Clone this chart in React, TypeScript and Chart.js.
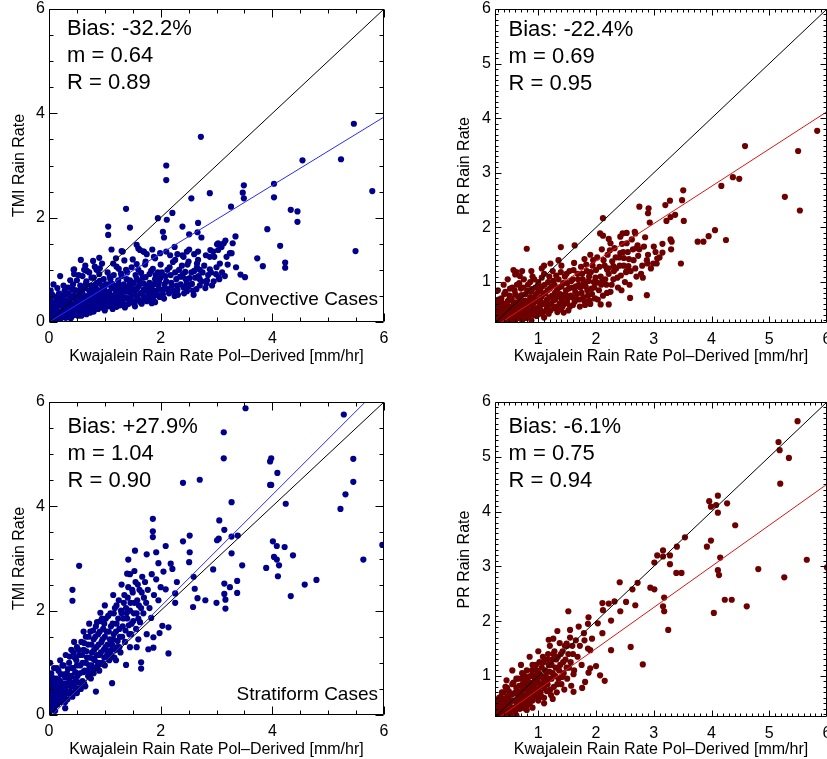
import React, { useEffect, useRef } from "react";
import { Chart, registerables } from "chart.js";
Chart.register(...registerables);

type Pt = [number, number];
const FONT = '"Liberation Sans", Arial, Helvetica, sans-serif';

// ---------- text ----------
const xAxisTitle = "Kwajalein Rain Rate Pol\u2013Derived [mm/hr]";
const yAxisTitles = ["TMI Rain Rate", "PR Rain Rate", "TMI Rain Rate", "PR Rain Rate"];
const statsConvTmi = ["Bias: -32.2%", "m = 0.64", "R = 0.89"];
const statsConvPr = ["Bias: -22.4%", "m = 0.69", "R = 0.95"];
const statsStratTmi = ["Bias: +27.9%", "m = 1.04", "R = 0.90"];
const statsStratPr = ["Bias: -6.1%", "m = 0.75", "R = 0.94"];
const caseLabels = ["Convective Cases", "", "Stratiform Cases", ""];

// ---------- axes ----------
const tmiRange = [0, 6];
const prRange = [0.25, 6];
const tmiMajorTicks = [0, 2, 4, 6];
const prMajorTicks = [1, 2, 3, 4, 5, 6];
const tmiMinorStep = 0.5;
const prMinorStep = 0.1;

// ---------- lines ----------
const oneToOneTmi: Pt[] = [[0, 0], [6, 6]];
const oneToOnePr: Pt[] = [[0.25, 0.25], [6, 6]];
const fitConvTmi: Pt[] = [[0, 0], [6, 3.93]];
const fitConvPr: Pt[] = [[0.25, 0.19], [6, 4.12]];
const fitStratTmi: Pt[] = [[0, -0.06], [6, 6.36]];
const fitStratPr: Pt[] = [[0, 0], [6, 4.5]];

// ---------- scatter values ----------
const convTmi: Pt[] = [
  [2.72, 3.55], [5.46, 3.8], [2.1, 3.0], [2.1, 2.72], [4.54, 3.1], [5.23, 3.12], [5.79, 2.51], [4.03, 2.65],
  [4.03, 2.39], [3.49, 2.62], [3.47, 2.48], [3.49, 2.37], [2.88, 2.47], [2.55, 2.37], [3.26, 2.21], [1.38, 2.17],
  [2.21, 2.09], [1.95, 1.99], [2.11, 1.96], [2.67, 1.9], [2.39, 1.83], [1.45, 1.81], [1.06, 1.83], [1.06, 1.67],
  [2.04, 1.73], [2.06, 1.62], [2.51, 1.68], [2.66, 1.72], [2.73, 1.62], [3.01, 1.49], [3.16, 1.56], [3.34, 1.64],
  [3.13, 1.51], [4.33, 2.15], [4.45, 2.12], [4.45, 1.92], [3.91, 1.78], [4.14, 1.46], [3.73, 1.22], [3.83, 1.07],
  [4.23, 1.14], [4.23, 1.04], [5.49, 1.36], [3.43, 0.91], [3.51, 0.86], [3.04, 0.86], [2.99, 0.92], [2.88, 1.01],
  [2.89, 1.38], [3.03, 1.38], [2.96, 1.25], [3.18, 1.25], [3.24, 1.32], [2.81, 1.28], [3.06, 1.12], [2.67, 1.19],
  [2.51, 1.39], [2.39, 1.28], [2.25, 1.44], [2.17, 1.28], [1.85, 1.39], [1.69, 1.35], [1.57, 1.48], [1.6, 1.41],
  [1.32, 1.35], [1.12, 1.39], [0.57, 1.19], [0.9, 1.23], [0.45, 1.01], [0.45, 0.92], [2.59, 0.52], [1.84, 0.36],
  [2.82, 0.74], [2.7, 0.82], [2.47, 0.74], [2.38, 0.87], [0.02, 0.58], [0.02, 0.45], [1.3, 1.36], [1.63, 1.38],
  [1.7, 1.35], [1.88, 1.25], [1.99, 1.32], [2.1, 1.35], [0.79, 1.17], [0.82, 1.06], [0.44, 1.0], [0.63, 1.0],
  [0.91, 1.03], [1.21, 1.06], [1.38, 1.0], [1.57, 1.11], [1.73, 1.16], [1.9, 1.22], [2.26, 1.19], [2.41, 1.25],
  [2.47, 1.35], [2.5, 1.16], [2.65, 1.12], [2.67, 1.35], [2.7, 1.0], [2.88, 1.25], [2.94, 1.35], [3.03, 1.51],
  [3.09, 1.44], [3.29, 1.51], [3.27, 1.32], [1.45, 0.74],
  [0.02, 0.05], [0.03, 0.15], [0.05, 0.3], [0.02, 0.4], [0.06, 0.52], [0.04, 0.22], [0.08, 0.1], [0.1, 0.35],
  [0.1, 0.2], [0.07, 0.02], [0.12, 0.48], [0.03, 0.6], [0.09, 0.28], [0.15, 0.1], [0.15, 0.3], [0.17, 0.45],
  [0.18, 0.55], [0.2, 0.05], [0.2, 0.2], [0.22, 0.38], [0.24, 0.5], [0.25, 0.15], [0.27, 0.28], [0.28, 0.6],
  [0.3, 0.08], [0.3, 0.42], [0.32, 0.3], [0.26, 0.7], [0.35, 0.15], [0.35, 0.55], [0.37, 0.25], [0.38, 0.45],
  [0.4, 0.1], [0.4, 0.35], [0.42, 0.62], [0.43, 0.72], [0.45, 0.2], [0.45, 0.5], [0.47, 0.3], [0.48, 0.42],
  [0.5, 0.15], [0.5, 0.6], [0.5, 0.8], [0.52, 0.35], [0.53, 0.48], [0.55, 0.25], [0.56, 0.7], [0.58, 0.12],
  [0.58, 0.4], [0.6, 0.55], [0.6, 0.88], [0.62, 0.3], [0.63, 0.45], [0.65, 0.2], [0.65, 0.65], [0.67, 0.78],
  [0.68, 0.38], [0.7, 0.5], [0.7, 0.28], [0.72, 0.6], [0.72, 0.95], [0.74, 0.18], [0.75, 0.42], [0.75, 0.7],
  [0.78, 0.32], [0.78, 0.55], [0.8, 0.85], [0.8, 0.2], [0.82, 0.45], [0.84, 0.65], [0.85, 0.38], [0.86, 0.75],
  [0.88, 0.25], [0.88, 0.52], [0.9, 0.6], [0.9, 0.92], [0.92, 0.42], [0.94, 0.3], [0.95, 0.7], [0.96, 0.5],
  [0.98, 0.82], [1.0, 0.38], [1.0, 0.6], [1.0, 0.22], [1.02, 0.48], [1.04, 0.72], [1.05, 0.95], [1.06, 0.3],
  [1.08, 0.58], [1.1, 0.4], [1.1, 0.82], [1.12, 0.65], [1.14, 0.25], [1.15, 0.5], [1.16, 0.9], [1.18, 0.35],
  [1.2, 0.7], [1.2, 0.58], [1.22, 0.45], [1.24, 0.8], [1.25, 1.02], [1.27, 0.32], [1.28, 0.62], [1.3, 0.5],
  [1.3, 0.88], [1.32, 0.42], [1.34, 0.72], [1.36, 0.28], [1.38, 0.58], [1.4, 0.95], [1.4, 0.45], [1.42, 0.66],
  [1.44, 0.36], [1.45, 0.8], [1.47, 0.52], [1.48, 1.05], [1.5, 0.62], [1.5, 0.4], [1.52, 0.75], [1.54, 0.3],
  [1.55, 0.9], [1.56, 0.5], [1.58, 0.65], [1.6, 0.42], [1.6, 1.0], [1.62, 0.78], [1.64, 0.55], [1.66, 0.35],
  [1.68, 0.85], [1.7, 0.62], [1.7, 0.48], [1.72, 1.1], [1.74, 0.7], [1.75, 0.4], [1.78, 0.55], [1.8, 0.92],
  [1.8, 0.75], [1.82, 0.45], [1.84, 0.65], [1.86, 1.02], [1.88, 0.5], [1.9, 0.82], [1.9, 0.38], [1.92, 0.6],
  [1.95, 0.95], [1.96, 0.7], [1.98, 0.48], [2.0, 0.85], [2.0, 1.1], [2.05, 0.62], [2.06, 0.45], [2.1, 0.78],
  [2.12, 1.0], [2.15, 0.55], [2.18, 0.9], [2.2, 0.7], [2.22, 1.15], [2.25, 0.5], [2.28, 0.82], [2.3, 0.62],
  [2.33, 1.0], [2.36, 0.72], [2.4, 0.92], [2.42, 0.55], [2.45, 0.82], [2.48, 1.1], [2.5, 0.68], [2.55, 0.95],
  [2.58, 0.6], [2.62, 0.85], [2.65, 1.05], [2.7, 0.7], [2.75, 0.95], [2.8, 0.65], [2.85, 0.9], [2.95, 0.78],
  [3.1, 0.95], [3.2, 1.1],
];
const convTmiDense: Pt[] = [
  [0.04, 0.08], [0.06, 0.38], [0.11, 0.13], [0.13, 0.24], [0.14, 0.41], [0.16, 0.06], [0.19, 0.33], [0.21, 0.47],
  [0.23, 0.12], [0.26, 0.22], [0.29, 0.36], [0.31, 0.53], [0.33, 0.18], [0.34, 0.66], [0.36, 0.39], [0.39, 0.2],
  [0.41, 0.49], [0.44, 0.27], [0.46, 0.61], [0.49, 0.33], [0.51, 0.47], [0.54, 0.19], [0.55, 0.56], [0.57, 0.31],
  [0.59, 0.64], [0.61, 0.22], [0.62, 0.5], [0.64, 0.37], [0.66, 0.73], [0.69, 0.44], [0.71, 0.21], [0.73, 0.53],
  [0.74, 0.33], [0.76, 0.85], [0.77, 0.61], [0.79, 0.26], [0.81, 0.5], [0.83, 0.36], [0.83, 0.72], [0.86, 0.56],
  [0.87, 0.29], [0.89, 0.44], [0.91, 0.79], [0.93, 0.53], [0.93, 0.35], [0.96, 0.63], [0.97, 0.27], [0.99, 0.47],
  [1.01, 0.71], [1.03, 0.33], [1.05, 0.55], [1.07, 0.41], [1.09, 0.87], [1.11, 0.51], [1.13, 0.32], [1.13, 0.73],
  [1.16, 0.44], [1.19, 0.62], [1.21, 0.29], [1.23, 0.54], [1.26, 0.71], [1.26, 0.4], [1.29, 0.93], [1.31, 0.57],
  [1.33, 0.35], [1.35, 0.64], [1.37, 0.47], [1.39, 0.82], [1.41, 0.34], [1.43, 0.58], [1.46, 0.45], [1.49, 0.72],
  [1.51, 0.53], [1.53, 0.37], [1.55, 0.61], [1.57, 0.83], [1.59, 0.46], [1.61, 0.69], [1.63, 0.39], [1.65, 0.94],
  [1.67, 0.57], [1.69, 0.74], [1.71, 0.43], [1.73, 0.86], [1.76, 0.6], [1.79, 0.47], [1.81, 0.68], [1.83, 0.98],
  [1.85, 0.56], [1.87, 0.41], [1.89, 0.73], [1.91, 0.9], [1.94, 0.52], [1.97, 0.77], [1.99, 0.62], [2.02, 0.95],
  [2.04, 0.53], [2.07, 0.72], [2.09, 0.88], [2.13, 0.63], [2.16, 1.05], [2.19, 0.75], [2.23, 0.6], [2.26, 0.95],
  [2.29, 0.7], [2.31, 0.52], [2.35, 0.87], [2.38, 1.08], [2.41, 0.66], [2.44, 0.96], [2.47, 0.59], [2.52, 0.84],
  [2.56, 0.73], [2.6, 0.98], [2.64, 0.63], [2.68, 0.88], [2.73, 0.78], [2.78, 1.08], [2.83, 0.8], [2.9, 0.95],
  [2.92, 0.7], [3.0, 1.05], [3.05, 0.82], [3.15, 0.88], [3.35, 1.05], [1.15, 1.12], [1.35, 1.18], [0.95, 1.12],
  [0.68, 0.98], [0.53, 0.9], [0.38, 0.8], [0.15, 0.65], [0.08, 0.72], [0.2, 0.88], [1.5, 1.2], [1.75, 1.3],
  [2.3, 1.3], [2.6, 1.3], [1.2, 1.22], [0.85, 1.0], [0.65, 1.08], [0.05, 0.02], [0.09, 0.05], [0.12, 0.03],
  [0.14, 0.17], [0.18, 0.12], [0.22, 0.08], [0.24, 0.3], [0.28, 0.14], [0.31, 0.24], [0.34, 0.1], [0.37, 0.33],
  [0.39, 0.07], [0.42, 0.22], [0.44, 0.13], [0.47, 0.17], [0.49, 0.25], [0.52, 0.12], [0.56, 0.17], [0.6, 0.42],
  [0.64, 0.27], [0.67, 0.15], [0.7, 0.38], [0.73, 0.25],
];

const convPr: Pt[] = [
  [5.83, 3.77], [4.58, 3.49], [5.5, 3.4], [4.37, 2.92], [4.48, 2.89], [4.17, 2.76], [5.27, 2.56], [5.53, 2.31],
  [3.51, 2.68], [3.49, 2.5], [3.28, 2.49], [3.2, 2.41], [2.75, 2.38], [2.91, 2.35], [2.9, 2.26], [2.12, 2.17],
  [3.37, 2.23], [3.29, 2.19], [3.22, 2.12], [3.52, 2.12], [2.93, 2.09], [4.06, 1.95], [3.95, 1.84], [4.25, 1.77],
  [3.86, 1.74], [3.76, 1.74], [3.29, 1.78], [3.31, 1.74], [3.15, 1.54], [3.06, 1.43], [2.99, 1.34], [2.89, 1.34],
  [3.05, 1.34], [3.47, 1.34], [2.81, 1.08], [2.88, 0.76], [2.59, 0.71], [2.22, 0.59], [0.8, 1.61], [1.39, 1.64],
  [1.63, 1.67], [2.12, 1.85], [2.07, 1.89], [2.46, 1.89], [2.53, 1.9], [2.67, 1.92], [2.68, 1.89], [2.42, 1.83],
  [2.22, 1.79], [2.25, 1.71], [2.72, 1.67], [2.7, 1.62], [2.53, 1.71], [2.42, 1.53], [2.48, 1.44], [2.56, 1.29],
  [2.53, 1.2], [2.3, 1.29], [2.19, 1.23], [2.11, 1.02], [2.02, 0.99], [2.08, 0.59], [1.44, 0.44], [0.57, 1.22],
  [0.6, 1.14], [0.68, 1.11], [1.21, 1.34], [1.06, 1.25],
  [0.27, 0.3], [0.28, 0.45], [0.3, 0.6], [0.3, 0.27], [0.32, 0.38], [0.33, 0.52], [0.35, 0.3], [0.36, 0.7],
  [0.38, 0.45], [0.4, 0.28], [0.4, 0.58], [0.42, 0.36], [0.43, 0.82], [0.45, 0.5], [0.46, 0.3], [0.47, 0.65],
  [0.48, 0.4], [0.5, 0.75], [0.5, 0.55], [0.52, 0.28], [0.53, 0.45], [0.55, 0.9], [0.55, 0.35], [0.57, 0.62],
  [0.58, 0.5], [0.6, 0.3], [0.6, 0.78], [0.62, 0.42], [0.63, 0.95], [0.65, 0.58], [0.66, 0.35], [0.68, 0.7],
  [0.7, 0.48], [0.7, 0.88], [0.72, 0.3], [0.73, 0.62], [0.75, 1.05], [0.76, 0.42], [0.78, 0.78], [0.8, 0.55],
  [0.8, 0.35], [0.82, 0.95], [0.84, 0.65], [0.85, 0.45], [0.87, 0.82], [0.88, 0.3], [0.9, 0.58], [0.9, 1.1],
  [0.92, 0.72], [0.94, 0.48], [0.95, 0.9], [0.97, 0.38], [0.98, 0.65], [1.0, 0.82], [1.0, 1.0], [1.02, 0.55],
  [1.04, 0.42], [1.05, 0.72], [1.07, 0.92], [1.08, 0.6], [1.1, 0.35], [1.1, 1.15], [1.12, 0.8], [1.14, 0.5],
  [1.15, 0.68], [1.17, 1.0], [1.18, 0.42], [1.2, 0.88], [1.22, 0.6], [1.24, 0.75], [1.25, 1.2], [1.27, 0.52],
  [1.28, 0.95], [1.3, 0.68], [1.32, 0.85], [1.33, 0.45], [1.35, 1.05], [1.37, 0.6], [1.38, 0.78], [1.4, 0.92],
  [1.4, 1.3], [1.42, 0.55], [1.44, 0.72], [1.46, 1.1], [1.48, 0.85], [1.5, 0.62], [1.5, 0.98], [1.52, 0.48],
  [1.54, 1.2], [1.56, 0.75], [1.58, 0.9], [1.6, 1.05], [1.6, 0.58], [1.62, 1.35], [1.64, 0.82], [1.66, 0.68],
  [1.68, 1.15], [1.7, 0.95], [1.72, 0.55], [1.74, 1.28], [1.75, 0.8], [1.77, 1.05], [1.8, 0.65], [1.8, 1.42],
  [1.82, 0.92], [1.84, 1.2], [1.86, 0.75], [1.88, 1.1], [1.9, 1.5], [1.9, 0.6], [1.92, 0.88], [1.94, 1.3],
  [1.96, 1.0], [1.98, 0.7], [2.0, 1.22], [2.02, 1.45], [2.05, 0.85], [2.08, 1.1], [2.1, 1.6], [2.12, 0.75],
  [2.15, 1.3], [2.18, 0.95], [2.2, 1.5], [2.22, 1.15], [2.25, 0.82], [2.28, 1.38], [2.3, 1.05], [2.32, 1.62],
  [2.35, 1.25], [2.38, 0.9], [2.4, 1.45], [2.43, 1.12], [2.45, 1.7], [2.48, 1.3], [2.5, 1.0], [2.55, 1.55],
  [2.6, 1.2], [2.62, 1.78], [2.65, 1.4], [2.7, 1.1], [2.75, 1.6], [2.8, 1.3], [2.85, 1.82], [2.9, 1.5],
  [2.95, 1.25], [3.0, 1.65], [3.1, 1.45],
];
const convPrDense: Pt[] = [
  [0.26, 0.35], [0.27, 0.52], [0.29, 0.26], [0.31, 0.42], [0.31, 0.68], [0.34, 0.36], [0.34, 0.56], [0.37, 0.27],
  [0.37, 0.62], [0.39, 0.38], [0.41, 0.48], [0.41, 0.78], [0.44, 0.29], [0.44, 0.6], [0.46, 0.42], [0.49, 0.33],
  [0.49, 0.67], [0.51, 0.48], [0.51, 0.88], [0.54, 0.38], [0.54, 0.7], [0.56, 0.3], [0.56, 0.55], [0.59, 0.43],
  [0.59, 0.85], [0.61, 0.63], [0.62, 0.33], [0.64, 0.51], [0.64, 0.74], [0.67, 0.44], [0.67, 0.98], [0.69, 0.6],
  [0.71, 0.38], [0.71, 0.76], [0.74, 0.52], [0.74, 0.9], [0.77, 0.34], [0.77, 0.66], [0.79, 0.47], [0.81, 0.84],
  [0.83, 0.38], [0.83, 0.6], [0.86, 0.72], [0.86, 1.0], [0.89, 0.5], [0.89, 0.87], [0.91, 0.4], [0.93, 0.63],
  [0.93, 1.05], [0.96, 0.78], [0.96, 0.52], [0.99, 0.45], [0.99, 0.93], [1.01, 0.68], [1.03, 0.86], [1.03, 0.5],
  [1.06, 0.62], [1.06, 1.08], [1.09, 0.78], [1.09, 0.45], [1.11, 0.95], [1.13, 0.62], [1.16, 0.85], [1.16, 0.55],
  [1.19, 0.72], [1.19, 1.1], [1.21, 0.48], [1.23, 0.92], [1.26, 0.66], [1.26, 1.02], [1.29, 0.8], [1.31, 0.55],
  [1.31, 1.12], [1.34, 0.74], [1.36, 0.9], [1.39, 0.5], [1.39, 1.18], [1.41, 0.68], [1.43, 0.98], [1.45, 0.6],
  [1.47, 0.78], [1.49, 1.15], [1.51, 0.7], [1.53, 0.88], [1.55, 0.55], [1.57, 1.02], [1.59, 0.72], [1.61, 1.22],
  [1.63, 0.64], [1.65, 0.92], [1.67, 0.78], [1.69, 1.05], [1.71, 0.68], [1.73, 0.9], [1.76, 1.15], [1.78, 0.72],
  [1.79, 0.98], [1.81, 0.58], [1.83, 1.32], [1.85, 0.85], [1.87, 1.02], [1.89, 0.66], [1.91, 1.18], [1.93, 0.78],
  [1.95, 1.4], [1.97, 0.9], [1.99, 1.08], [2.03, 0.68], [2.06, 1.28], [2.09, 0.95], [2.13, 1.4], [2.16, 1.05],
  [2.19, 0.8], [2.21, 1.25], [2.24, 1.58], [2.27, 0.95], [2.31, 1.2], [2.34, 1.45], [2.37, 1.08], [2.41, 1.3],
  [2.44, 0.85], [2.47, 1.55], [2.52, 1.18], [2.57, 1.42], [2.58, 0.95], [2.64, 1.6], [2.68, 1.25], [2.73, 1.48],
  [2.78, 1.15], [2.83, 1.65], [2.88, 1.4], [3.03, 1.55], [3.15, 1.7], [3.3, 1.6], [0.62, 1.18], [0.47, 1.05],
  [0.88, 1.2], [1.1, 1.3], [1.35, 1.4], [0.72, 1.2], [0.4, 0.95], [0.3, 0.85],
];

const stratTmi: Pt[] = [
  [3.52, 5.88], [5.28, 5.76], [3.13, 5.42], [3.13, 4.92], [3.96, 4.86], [3.98, 4.92], [4.09, 4.64], [3.96, 4.41],
  [3.98, 4.41], [5.45, 4.91], [5.45, 4.47], [5.31, 4.23], [5.22, 3.95], [4.24, 4.05], [2.7, 4.51], [2.4, 4.45],
  [3.27, 4.08], [1.86, 3.76], [1.86, 3.52], [1.86, 3.41], [3.05, 3.73], [3.14, 3.55], [3.27, 3.42], [3.38, 3.44],
  [3.01, 3.35], [3.04, 3.38], [2.52, 3.44], [2.4, 3.33], [2.09, 3.24], [2.52, 3.12], [1.54, 3.15], [1.42, 2.98],
  [2.51, 2.93], [1.96, 2.91], [2.18, 2.9], [2.21, 2.8], [3.27, 3.1], [4.01, 3.33], [4.08, 3.24], [4.22, 3.22],
  [4.37, 3.06], [4.03, 3.03], [4.08, 2.98], [3.89, 2.82], [4.12, 2.87], [4.1, 2.66], [3.46, 2.87], [5.63, 2.98],
  [5.97, 3.26], [2.94, 2.79], [2.59, 2.65], [2.61, 2.42], [2.29, 2.55], [2.09, 2.41], [2.26, 2.33], [2.26, 2.15],
  [2.58, 2.07], [2.66, 2.24], [2.8, 2.2], [3.0, 2.15], [3.14, 2.52], [3.24, 2.45], [3.37, 2.57], [3.37, 2.34],
  [3.14, 2.32], [3.16, 2.21], [3.16, 2.04], [4.58, 2.5], [4.79, 2.59], [4.33, 2.28], [1.92, 3.12], [1.75, 3.08],
  [1.53, 2.76], [1.4, 2.71], [0.92, 1.96], [0.42, 2.4], [0.42, 2.19], [0.54, 2.86], [1.83, 1.86], [2.03, 1.71],
  [2.14, 1.68], [2.14, 1.18], [1.87, 1.49], [1.98, 1.57], [1.87, 1.29], [1.78, 1.26], [1.57, 1.3], [1.65, 1.01],
  [1.65, 0.89], [1.38, 0.96], [1.13, 0.61], [0.84, 0.45], [0.29, 0.13],
  [0.01, 0.05], [0.02, 0.2], [0.01, 0.35], [0.03, 0.5], [0.02, 0.65], [0.04, 0.8], [0.05, 0.12], [0.06, 0.42],
  [0.07, 0.28], [0.08, 0.6], [0.09, 0.9], [0.1, 0.18], [0.1, 0.5], [0.02, 1.0], [0.05, 0.72], [0.12, 0.35],
  [0.13, 0.7], [0.15, 0.2], [0.15, 0.55], [0.17, 0.85], [0.18, 0.4], [0.2, 0.65], [0.2, 1.05], [0.22, 0.25],
  [0.23, 0.5], [0.25, 0.78], [0.26, 0.95], [0.27, 0.35], [0.28, 0.6], [0.3, 1.15], [0.3, 0.45], [0.32, 0.8],
  [0.33, 0.3], [0.35, 0.62], [0.36, 1.0], [0.38, 0.45], [0.4, 0.75], [0.4, 1.25], [0.42, 0.35], [0.43, 0.9],
  [0.45, 0.55], [0.46, 1.1], [0.48, 0.7], [0.5, 0.42], [0.5, 1.3], [0.5, 0.95], [0.52, 0.62], [0.54, 1.15],
  [0.55, 0.8], [0.57, 0.5], [0.58, 1.4], [0.6, 1.0], [0.6, 0.65], [0.62, 1.25], [0.64, 0.85], [0.65, 0.55],
  [0.66, 1.5], [0.68, 1.1], [0.7, 0.75], [0.7, 1.35], [0.72, 0.95], [0.74, 1.6], [0.75, 0.7], [0.77, 1.2],
  [0.78, 0.9], [0.8, 1.45], [0.8, 0.8], [0.82, 1.05], [0.84, 1.7], [0.85, 1.3], [0.87, 0.95], [0.88, 1.55],
  [0.9, 1.15], [0.9, 0.85], [0.92, 1.8], [0.94, 1.4], [0.95, 1.0], [0.97, 1.65], [0.98, 1.25], [1.0, 0.95],
  [1.0, 1.5], [1.02, 1.85], [1.04, 1.15], [1.05, 1.35], [1.07, 1.6], [1.08, 1.05], [1.1, 1.95], [1.12, 1.25],
  [1.14, 1.75], [1.15, 1.45], [1.17, 1.1], [1.18, 2.05], [1.2, 1.6], [1.22, 1.3], [1.24, 1.85], [1.25, 2.2],
  [1.27, 1.5], [1.28, 1.2], [1.3, 1.95], [1.32, 1.7], [1.35, 2.3], [1.36, 1.4], [1.38, 2.05], [1.4, 1.85],
  [1.42, 2.45], [1.44, 1.55], [1.46, 2.15], [1.48, 1.75], [1.5, 2.35], [1.52, 1.95], [1.55, 2.55], [1.56, 1.65],
  [1.58, 2.2], [1.6, 1.85], [1.62, 2.4], [1.65, 2.05], [1.67, 2.65], [1.7, 2.25],
];
const stratTmiDense: Pt[] = [
  [0.02, 0.1], [0.03, 0.3], [0.02, 0.45], [0.04, 0.58], [0.03, 0.78], [0.06, 0.2], [0.07, 0.5], [0.08, 0.36],
  [0.09, 0.7], [0.11, 0.08], [0.11, 0.27], [0.12, 0.6], [0.13, 0.45], [0.14, 0.9], [0.16, 0.3], [0.17, 0.68],
  [0.19, 0.5], [0.21, 0.78], [0.21, 0.35], [0.24, 0.6], [0.24, 0.95], [0.26, 0.45], [0.29, 0.72], [0.29, 0.25],
  [0.31, 0.55], [0.34, 0.88], [0.34, 0.42], [0.37, 0.7], [0.37, 1.12], [0.39, 0.55], [0.41, 0.9], [0.44, 0.62],
  [0.44, 1.2], [0.47, 0.82], [0.47, 0.45], [0.49, 1.05], [0.51, 0.75], [0.53, 0.5], [0.53, 1.25], [0.56, 0.95],
  [0.56, 0.62], [0.59, 1.15], [0.61, 0.82], [0.63, 1.38], [0.63, 0.6], [0.66, 1.0], [0.67, 1.22], [0.69, 0.85],
  [0.71, 1.5], [0.73, 1.1], [0.73, 0.8], [0.76, 1.35], [0.76, 0.95], [0.79, 1.62], [0.79, 1.08], [0.81, 1.25],
  [0.83, 0.9], [0.83, 1.5], [0.86, 1.15], [0.86, 1.78], [0.89, 1.35], [0.89, 1.0], [0.91, 1.6], [0.93, 1.2],
  [0.96, 1.45], [0.96, 0.98], [0.99, 1.75], [0.99, 1.1], [1.01, 1.3], [1.03, 1.6], [1.06, 1.22], [1.06, 1.9],
  [1.09, 1.45], [1.11, 1.15], [1.11, 1.7], [1.13, 1.35], [1.16, 1.95], [1.16, 1.55], [1.19, 1.25], [1.21, 1.75],
  [1.21, 2.1], [1.23, 1.42], [1.26, 1.65], [1.26, 1.3], [1.29, 2.0], [1.31, 1.5], [1.33, 1.85], [1.34, 2.15],
  [1.37, 1.62], [1.39, 1.95], [1.41, 2.25], [1.43, 1.72], [1.45, 2.0], [1.47, 1.55], [1.49, 2.4], [1.51, 1.8],
  [1.53, 2.15], [1.57, 1.95], [1.59, 2.5], [1.61, 2.1], [1.63, 1.78], [1.66, 2.35], [1.69, 1.95], [1.72, 2.55],
  [1.74, 2.15], [1.77, 2.4], [1.8, 2.05], [1.84, 2.7], [1.88, 2.3], [1.92, 2.6], [1.96, 2.2], [2.0, 2.45],
  [2.05, 2.75], [0.95, 1.85], [0.72, 1.75], [0.62, 1.6], [0.45, 1.4], [1.15, 2.3], [1.3, 2.5], [1.0, 2.1],
  [1.45, 2.7], [1.2, 1.05], [1.45, 1.3], [1.6, 1.45], [1.75, 1.55],
];

const stratPr: Pt[] = [
  [5.49, 5.65], [5.16, 5.27], [5.18, 5.12], [5.34, 4.98], [5.19, 4.51], [4.11, 4.29], [3.96, 4.19], [3.99, 4.09],
  [4.08, 4.12], [4.27, 4.15], [4.11, 3.98], [4.41, 3.75], [3.92, 3.36], [3.99, 3.47], [4.15, 3.16], [4.11, 2.93],
  [4.13, 2.84], [4.04, 2.15], [4.23, 2.39], [4.35, 2.39], [4.61, 2.27], [4.81, 2.95], [5.26, 2.8], [5.65, 3.12],
  [6.0, 2.98], [3.54, 3.53], [3.4, 3.36], [3.28, 3.2], [3.28, 3.04], [3.16, 3.29], [3.16, 3.18], [3.06, 3.2],
  [3.01, 3.07], [3.39, 2.88], [3.48, 2.88], [2.94, 2.61], [3.01, 2.58], [3.18, 2.43], [3.16, 2.27], [3.18, 2.18],
  [3.25, 1.84], [2.81, 1.21], [2.6, 1.53], [2.68, 2.29], [2.72, 2.7], [2.63, 2.58], [2.41, 2.71], [2.52, 2.35],
  [2.42, 2.18], [2.32, 2.36], [2.22, 2.32], [2.12, 2.2], [2.11, 2.33], [2.26, 2.01], [2.26, 1.47], [2.03, 1.96],
  [2.11, 1.78], [2.07, 1.01], [2.15, 0.91], [2.0, 1.18], [1.87, 1.06], [1.81, 0.89], [1.76, 0.78], [1.61, 0.71],
  [1.52, 2.18], [1.55, 1.84], [1.26, 1.68], [1.7, 1.9], [1.87, 2.07], [1.86, 1.95], [1.79, 1.78], [1.86, 1.5],
  [1.9, 1.47], [1.93, 1.68], [1.61, 1.03], [1.9, 1.14], [1.33, 1.82], [1.18, 1.66], [1.49, 1.59],
  [0.26, 0.28], [0.28, 0.4], [0.3, 0.32], [0.3, 0.55], [0.32, 0.27], [0.33, 0.45], [0.35, 0.62], [0.36, 0.35],
  [0.38, 0.5], [0.4, 0.28], [0.4, 0.7], [0.42, 0.42], [0.43, 0.58], [0.45, 0.33], [0.46, 0.78], [0.48, 0.5],
  [0.5, 0.38], [0.5, 0.65], [0.52, 0.28], [0.53, 0.55], [0.55, 0.85], [0.56, 0.42], [0.58, 0.68], [0.6, 0.35],
  [0.6, 0.55], [0.62, 0.78], [0.63, 0.48], [0.65, 0.95], [0.66, 0.62], [0.68, 0.4], [0.7, 0.72], [0.7, 0.55],
  [0.72, 1.05], [0.73, 0.85], [0.75, 0.5], [0.75, 0.65], [0.77, 0.92], [0.78, 0.4], [0.8, 0.75], [0.8, 1.1],
  [0.82, 0.58], [0.84, 0.85], [0.85, 0.48], [0.87, 1.0], [0.88, 0.68], [0.9, 1.2], [0.9, 0.55], [0.92, 0.8],
  [0.94, 0.95], [0.95, 0.62], [0.97, 1.1], [0.98, 0.72], [1.0, 0.88], [1.0, 0.55], [1.02, 1.25], [1.04, 0.7],
  [1.05, 1.0], [1.07, 0.85], [1.08, 1.35], [1.1, 0.6], [1.12, 1.1], [1.14, 0.9], [1.15, 0.72], [1.17, 1.4],
  [1.18, 1.2], [1.2, 0.95], [1.22, 0.65], [1.24, 1.3], [1.25, 1.05], [1.27, 0.8], [1.28, 1.45], [1.3, 1.15],
  [1.32, 0.7], [1.34, 1.35], [1.35, 0.95], [1.37, 1.6], [1.38, 1.2], [1.4, 0.85], [1.42, 1.45], [1.44, 1.05],
  [1.45, 0.75], [1.47, 1.3], [1.5, 1.55], [1.5, 0.95], [1.53, 1.15], [1.55, 1.7], [1.57, 0.82], [1.6, 1.4],
];
const stratPrDense: Pt[] = [
  [0.27, 0.36], [0.29, 0.5], [0.31, 0.27], [0.32, 0.6], [0.34, 0.38], [0.35, 0.52], [0.37, 0.3], [0.37, 0.7],
  [0.39, 0.42], [0.41, 0.58], [0.41, 0.33], [0.43, 0.8], [0.44, 0.47], [0.46, 0.62], [0.47, 0.36], [0.49, 0.72],
  [0.51, 0.52], [0.51, 0.3], [0.54, 0.66], [0.54, 0.42], [0.57, 0.88], [0.57, 0.55], [0.59, 0.38], [0.61, 0.7],
  [0.62, 0.95], [0.64, 0.58], [0.64, 0.42], [0.67, 0.82], [0.67, 0.5], [0.69, 0.65], [0.71, 0.95], [0.71, 0.42],
  [0.74, 0.75], [0.74, 0.58], [0.76, 1.0], [0.79, 0.62], [0.79, 0.85], [0.81, 0.48], [0.83, 0.98], [0.83, 0.7],
  [0.86, 0.88], [0.86, 0.58], [0.89, 1.1], [0.89, 0.78], [0.91, 0.65], [0.93, 1.0], [0.93, 0.85], [0.96, 0.75],
  [0.96, 1.2], [0.99, 0.95], [0.99, 0.62], [1.01, 1.05], [1.03, 0.8], [1.06, 1.15], [1.06, 0.62], [1.09, 0.95],
  [1.09, 1.25], [1.11, 0.78], [1.13, 1.0], [1.16, 1.3], [1.16, 0.85], [1.19, 1.08], [1.21, 0.75], [1.23, 1.2],
  [1.23, 0.95], [1.26, 1.4], [1.29, 1.0], [1.31, 1.3], [1.33, 0.85], [1.36, 1.1], [1.39, 1.4], [1.41, 0.98],
  [1.43, 1.25], [1.46, 1.55], [1.49, 1.15], [1.52, 1.4], [1.56, 1.25], [1.59, 1.55], [1.62, 1.1], [1.65, 1.65],
  [1.68, 1.35], [1.72, 1.55], [1.75, 1.2], [1.8, 1.65], [0.55, 1.1], [0.7, 1.2], [0.85, 1.35], [0.45, 0.92],
  [1.0, 1.45], [1.2, 1.55], [0.62, 0.28], [0.8, 0.38], [0.9, 0.42], [1.1, 0.5], [1.25, 0.58],
];

// ---------- styles ----------
const NAVY = "#00008c";
const DARK_RED = "#6e0000";
const BLUE_LINE = "#2a2aff";
const RED_LINE = "#dd1515";

interface PanelSpec {
  left: number; top: number; width: number; height: number;
  padTop: number; padRight: number; yAxisW: number; xAxisH: number;
  range: number[]; majors: number[]; minorStep: number; majorLen: number; minorLen: number;
  points: Pt[]; fit: Pt[]; oneToOne: Pt[]; dotColor: string; fitColor: string;
  yTitle: string; stats: string[]; statsDx: number; statsDy: number;
  caseLabel: string; caseDy: number; yTitlePad: number;
}

const toXY = (a: Pt[]) => a.map(([x, y]) => ({ x, y }));

function Panel({ s }: { s: PanelSpec }) {
  const ref = useRef<HTMLCanvasElement>(null);
  useEffect(() => {
    const canvas = ref.current!;
    const [min, max] = s.range;
    const tickVals: number[] = [];
    for (let k = Math.ceil(min / s.minorStep - 1e-9); k * s.minorStep <= max + 1e-9; k++) tickVals.push(+(k * s.minorStep).toFixed(4));
    const frame = {
      id: "frame",
      afterDraw(chart: any) {
        const { ctx, chartArea: a } = chart;
        const xs = chart.scales.x, ys = chart.scales.y;
        ctx.save();
        ctx.strokeStyle = "#000";
        ctx.lineWidth = 1;
        const L = Math.round(a.left) + 0.5, R = Math.round(a.right) - 0.5;
        const T = Math.round(a.top) + 0.5, B = Math.round(a.bottom) - 0.5;
        ctx.beginPath();
        ctx.rect(L, T, R - L, B - T);
        for (const v of tickVals) {
          const major = s.majors.some((m) => Math.abs(m - v) < 1e-6);
          const len = major ? s.majorLen : s.minorLen;
          const px = Math.round(xs.getPixelForValue(v)) + 0.5;
          ctx.moveTo(px, B); ctx.lineTo(px, B - len);
          ctx.moveTo(px, T); ctx.lineTo(px, T + len);
          const py = Math.round(ys.getPixelForValue(v)) + 0.5;
          ctx.moveTo(L, py); ctx.lineTo(L + len, py);
          ctx.moveTo(R, py); ctx.lineTo(R - len, py);
        }
        ctx.stroke();
        ctx.fillStyle = "#000";
        ctx.font = `22px ${FONT}`;
        ctx.textAlign = "left";
        ctx.textBaseline = "alphabetic";
        s.stats.forEach((t, i) => ctx.fillText(t, a.left + s.statsDx, a.top + s.statsDy + i * 27));
        if (s.caseLabel) {
          ctx.font = `19px ${FONT}`;
          ctx.textAlign = "right";
          ctx.fillText(s.caseLabel, a.right - 6, a.bottom - s.caseDy);
        }
        ctx.restore();
      },
    };
    const tickFont = { family: FONT, size: 16 };
    const chart = new Chart(canvas, {
      type: "scatter",
      data: {
        datasets: [
          { data: toXY(s.oneToOne), showLine: true, borderColor: "#000", borderWidth: 1, pointRadius: 0, clip: 0 } as any,
          { data: toXY(s.fit), showLine: true, borderColor: s.fitColor, borderWidth: 1, pointRadius: 0, clip: 0 } as any,
          { data: toXY(s.points), showLine: false, backgroundColor: s.dotColor, borderColor: s.dotColor, borderWidth: 0, pointRadius: 3.1 } as any,
        ],
      },
      options: {
        animation: false,
        responsive: false,
        devicePixelRatio: 1,
        events: [],
        layout: { padding: { left: 0, top: s.padTop, right: s.padRight, bottom: 0 } },
        plugins: { legend: { display: false }, tooltip: { enabled: false } },
        scales: {
          x: {
            type: "linear", position: "bottom", min, max,
            grid: { display: false, drawTicks: false, tickLength: 0 },
            border: { display: false },
            ticks: { font: tickFont, color: "#000", padding: 7, maxRotation: 0, autoSkip: false, callback: (v: any) => String(v) },
            title: { display: true, text: xAxisTitle, font: tickFont, color: "#000", padding: { top: 0, bottom: 0 } },
            afterBuildTicks: (sc: any) => { sc.ticks = s.majors.map((v) => ({ value: v })); },
            afterFit: (sc: any) => { sc.height = s.xAxisH; sc.paddingLeft = 0; sc.paddingRight = 0; },
          },
          y: {
            type: "linear", position: "left", min, max,
            grid: { display: false, drawTicks: false, tickLength: 0 },
            border: { display: false },
            ticks: { font: tickFont, color: "#000", padding: 4, autoSkip: false, callback: (v: any) => String(v) },
            title: { display: true, text: s.yTitle, font: tickFont, color: "#000", padding: { top: s.yTitlePad, bottom: 0 } },
            afterBuildTicks: (sc: any) => { sc.ticks = s.majors.map((v) => ({ value: v })); },
            afterFit: (sc: any) => { sc.width = s.yAxisW; sc.paddingTop = 0; sc.paddingBottom = 0; },
          },
        },
      } as any,
      plugins: [frame],
    });
    return () => chart.destroy();
  }, []);
  return (
    <canvas
      ref={ref}
      width={s.width}
      height={s.height}
      style={{ position: "absolute", left: s.left, top: s.top, width: s.width, height: s.height }}
    />
  );
}

const tmiAxis = { range: tmiRange, majors: tmiMajorTicks, minorStep: tmiMinorStep, majorLen: 8, minorLen: 4 };
const prAxis = { range: prRange, majors: prMajorTicks, minorStep: prMinorStep, majorLen: 6, minorLen: 3 };

const panels: PanelSpec[] = [
  { left: 0, top: 0, width: 400, height: 366, padTop: 9, padRight: 16, yAxisW: 49, xAxisH: 44, ...tmiAxis,
    points: [...convTmi, ...convTmiDense], fit: fitConvTmi, oneToOne: oneToOneTmi, dotColor: NAVY, fitColor: BLUE_LINE,
    yTitle: yAxisTitles[0], stats: statsConvTmi, statsDx: 18, statsDy: 26, caseLabel: caseLabels[0], caseDy: 17, yTitlePad: 10 },
  { left: 446, top: 0, width: 400, height: 366, padTop: 9, padRight: 19, yAxisW: 49, xAxisH: 43, ...prAxis,
    points: [...convPr, ...convPrDense], fit: fitConvPr, oneToOne: oneToOnePr, dotColor: DARK_RED, fitColor: RED_LINE,
    yTitle: yAxisTitles[1], stats: statsConvPr, statsDx: 13.5, statsDy: 27, caseLabel: caseLabels[1], caseDy: 17, yTitlePad: 8.5 },
  { left: 0, top: 390, width: 400, height: 369, padTop: 12, padRight: 16, yAxisW: 49, xAxisH: 44, ...tmiAxis,
    points: [...stratTmi, ...stratTmiDense], fit: fitStratTmi, oneToOne: oneToOneTmi, dotColor: NAVY, fitColor: BLUE_LINE,
    yTitle: yAxisTitles[2], stats: statsStratTmi, statsDx: 18.5, statsDy: 31, caseLabel: caseLabels[2], caseDy: 15, yTitlePad: 10 },
  { left: 446, top: 390, width: 400, height: 369, padTop: 12, padRight: 19, yAxisW: 49, xAxisH: 42, ...prAxis,
    points: [...stratPr, ...stratPrDense], fit: fitStratPr, oneToOne: oneToOnePr, dotColor: DARK_RED, fitColor: RED_LINE,
    yTitle: yAxisTitles[3], stats: statsStratPr, statsDx: 13.5, statsDy: 31, caseLabel: caseLabels[3], caseDy: 15, yTitlePad: 8.5 },
];

export default function App() {
  return (
    <div style={{ position: "absolute", left: 0, top: 0, width: 827, height: 759, overflow: "hidden", background: "#fff" }}>
      {panels.map((p, i) => (
        <Panel key={i} s={p} />
      ))}
    </div>
  );
}
